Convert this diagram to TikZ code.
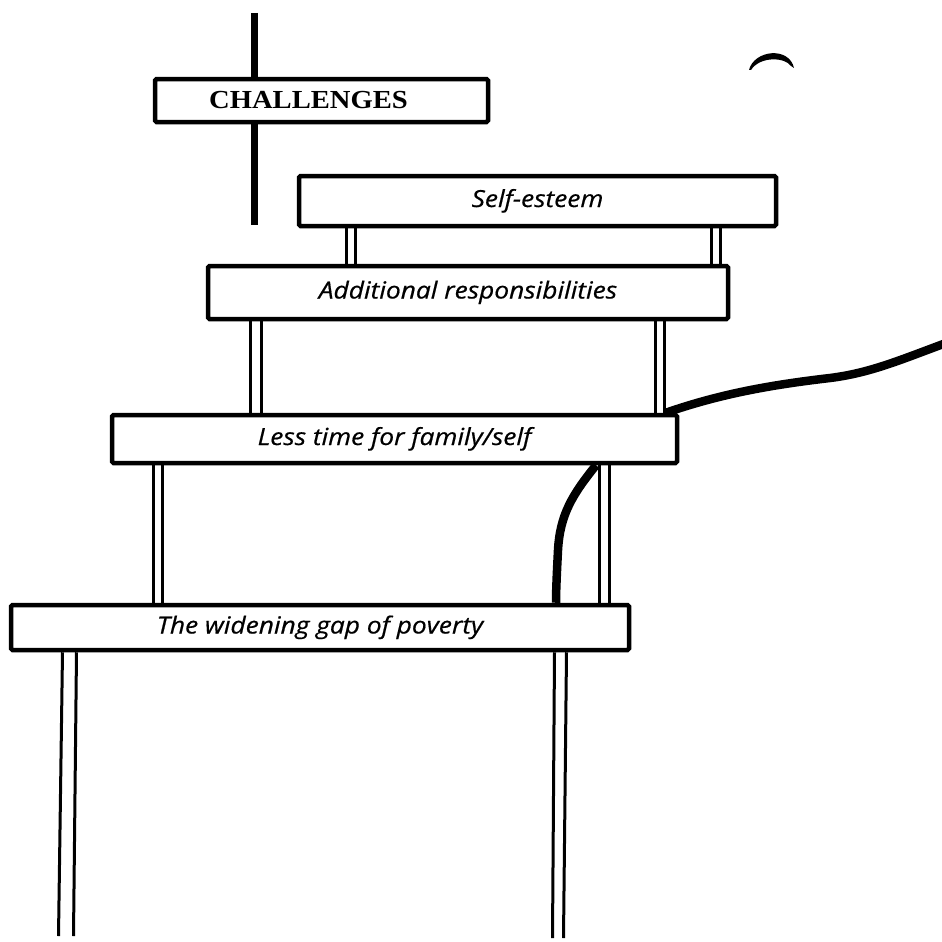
\documentclass[tikz,border=0pt]{standalone}
\usepackage{fontspec}
\newfontfamily\signfont[FakeStretch=1.12, FakeBold=0.6]{Open Sans}
\newfontfamily\titlefont[FakeStretch=1.1]{Liberation Serif}
\begin{document}
\begin{tikzpicture}[x=1pt,y=-1pt,
  sign/.style={draw, line width=4.5pt, fill=white, rounded corners=1.5pt, inner sep=0pt,
    text height=17pt, text depth=5pt,
    font=\signfont\itshape\fontsize{23.5}{28}\selectfont},
  title/.style={draw, line width=4.5pt, fill=white, rounded corners=1.5pt, inner sep=0pt,
    font=\titlefont\bfseries\fontsize{26}{30}\selectfont},
  leg/.style={line width=3pt},
  rope/.style={line width=8.5pt},
  post/.style={line width=7.5pt}
]
\path[use as bounding box, fill=white] (0,0) rectangle (942,942);

% thick post behind the title sign
\coordinate (posttop) at (254.5,13);
\coordinate (postbot) at (254.5,225);
\draw[post] (posttop) -- (postbot);

% signs
\node[title, minimum width=333pt, minimum height=43pt] (chal) at (321.5,100.5) {\hspace*{-26pt}CHALLENGES};
\node[sign, minimum width=477pt, minimum height=50pt] (self) at (537.5,201) {Self-esteem};
\node[sign, minimum width=520pt, minimum height=53pt] (add) at (468,292.5) {Additional responsibilities};
\node[sign, minimum width=565pt, minimum height=48pt] (less) at (394.5,439) {Less time for family/self};
\node[sign, minimum width=618pt, minimum height=45pt] (gap) at (320,627.5) {The widening gap of poverty};

% legs: self -> add
\draw[leg] (346.5,0 |- self.south) -- (346.5,0 |- add.north);
\draw[leg] (355.5,0 |- self.south) -- (355.5,0 |- add.north);
\draw[leg] (711.5,0 |- self.south) -- (711.5,0 |- add.north);
\draw[leg] (720.5,0 |- self.south) -- (720.5,0 |- add.north);
% legs: add -> less
\draw[leg] (250.5,0 |- add.south) -- (250.5,0 |- less.north);
\draw[leg] (261.5,0 |- add.south) -- (261.5,0 |- less.north);
\draw[leg] (655.5,0 |- add.south) -- (655.5,0 |- less.north);
\draw[leg] (664.5,0 |- add.south) -- (664.5,0 |- less.north);
% legs: less -> gap
\draw[leg] (153.5,0 |- less.south) -- (153.5,0 |- gap.north);
\draw[leg] (162.5,0 |- less.south) -- (162.5,0 |- gap.north);
\draw[leg] (599.5,0 |- less.south) -- (599.5,0 |- gap.north);
\draw[leg] (609.5,0 |- less.south) -- (609.5,0 |- gap.north);
% legs: gap -> ground
\coordinate (g1) at (58.5,936);
\coordinate (g2) at (73.5,936);
\coordinate (g3) at (552.5,938);
\coordinate (g4) at (563.5,938);
\draw[leg] (62.5,0 |- gap.south) -- (g1);
\draw[leg] (76.5,0 |- gap.south) -- (g2);
\draw[leg] (554.5,0 |- gap.south) -- (g3);
\draw[leg] (566.5,0 |- gap.south) -- (g4);

% ropes
\coordinate (r1s) at (666,0 |- less.north);
\coordinate (r1e) at (946,343);
\draw[rope] (r1s) .. controls (720,394) and (770,385) .. (830,378)
  .. controls (870,373) and (900,360) .. (r1e);
\coordinate (r2s) at (596,0 |- less.south);
\coordinate (r2e) at (556,0 |- gap.north);
\draw[rope] (r2s) .. controls (572,495) and (560,515) .. (558,550)
  .. controls (557,570) and (556,590) .. (r2e);

% small arch at top right
\fill (749,70) .. controls (754,50) and (789,46) .. (794,68)
  -- (791,66) .. controls (785,57) and (760,56) .. (751,70) -- cycle;
\end{tikzpicture}
\end{document}
